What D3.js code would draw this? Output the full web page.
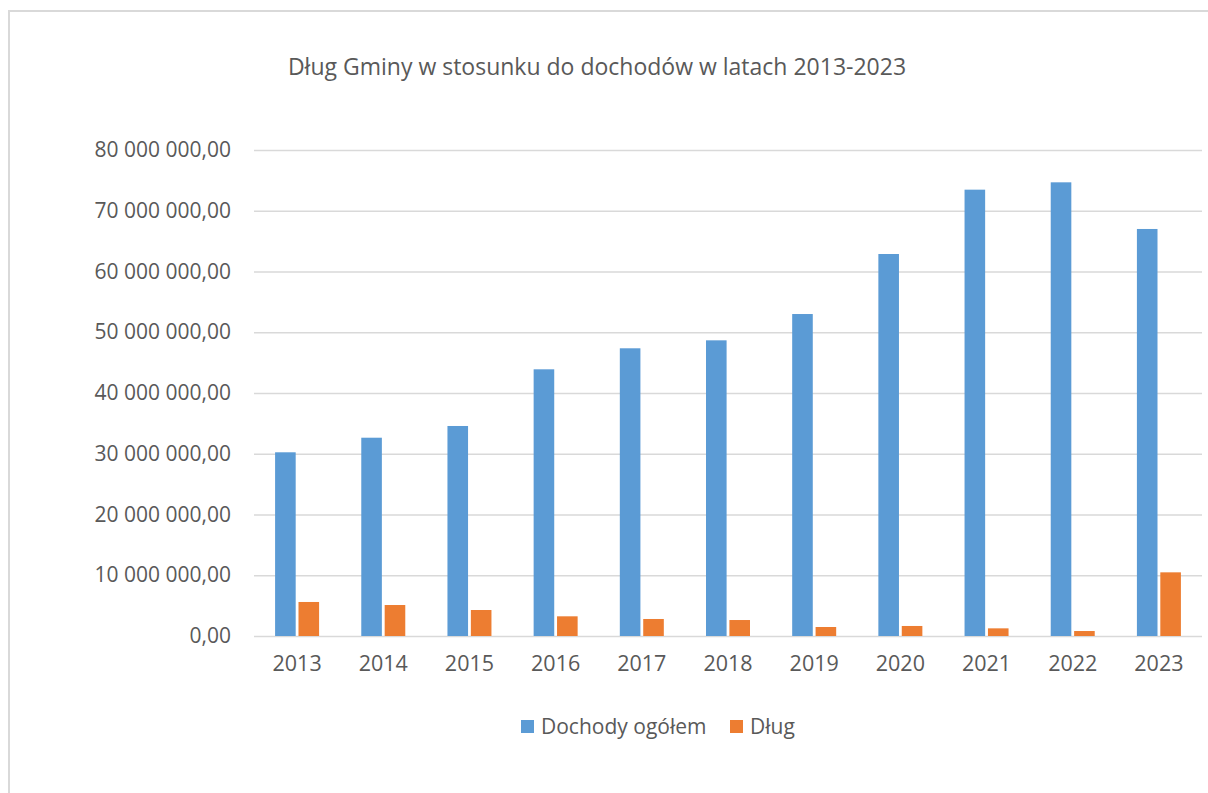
<!DOCTYPE html>
<html>
<head>
<meta charset="utf-8">
<script src="https://cdn.jsdelivr.net/npm/d3@7"></script>
<style>
  body { margin: 0; background: #fff; }
  text { font-family: "Open Sans", "Noto Sans", sans-serif; fill: #595959; }
</style>
</head>
<body>
<div id="chart"></div>
<script>
// chart size = browser window
const FRAME_WIDTH = 1208;
const FRAME_HEIGHT = 793;
const MARGINS = {left: 254, right: 6, top: 150, bottom: 157};

const VIS_WIDTH = FRAME_WIDTH - MARGINS.left - MARGINS.right;
const VIS_HEIGHT = FRAME_HEIGHT - MARGINS.top - MARGINS.bottom;

// data
const years = ["2013", "2014", "2015", "2016", "2017", "2018", "2019", "2020", "2021", "2022", "2023"];
const dochody = [30240000, 32640000, 34570000, 43900000, 47360000, 48670000, 53000000, 62880000, 73470000, 74680000, 67000000];
const dlug = [5600000, 5100000, 4280000, 3240000, 2800000, 2630000, 1480000, 1650000, 1260000, 820000, 10480000];
const seriesNames = ["Dochody ogółem", "Dług"];
const seriesColors = ["#5b9bd5", "#ed7d31"];
const yTicks = [0, 10000000, 20000000, 30000000, 40000000, 50000000, 60000000, 70000000, 80000000];

const FRAME = d3.select("#chart")
  .append("svg")
  .attr("width", FRAME_WIDTH)
  .attr("height", FRAME_HEIGHT);

// light border of the chart area (cut at the right / bottom)
FRAME.append("rect")
  .attr("x", 9)
  .attr("y", 11)
  .attr("width", FRAME_WIDTH + 20)
  .attr("height", FRAME_HEIGHT + 20)
  .attr("fill", "#fff")
  .attr("stroke", "#d9d9d9")
  .attr("stroke-width", 2);

// title
FRAME.append("text")
  .attr("x", 597)
  .attr("y", 75)
  .attr("text-anchor", "middle")
  .style("font-size", "23px")
  .text("Dług Gminy w stosunku do dochodów w latach 2013-2023");

const X_SCALE = d3.scaleBand()
  .domain(years)
  .range([0, VIS_WIDTH]);

const X_INNER = d3.scaleBand()
  .domain(seriesNames)
  .range([X_SCALE.bandwidth() / 2 - 22, X_SCALE.bandwidth() / 2 + 22])
  .paddingInner(0.12);

const Y_SCALE = d3.scaleLinear()
  .domain([0, 80000000])
  .range([VIS_HEIGHT, 0]);

const G = FRAME.append("g")
  .attr("transform", "translate(" + MARGINS.left + "," + MARGINS.top + ")");

// formatting like "80 000 000,00"
const fmt = (v) => d3.format(",.2f")(v).replace(/,/g, " ").replace(".", ",");

// gridlines + y labels
const yAxis = d3.axisLeft(Y_SCALE)
  .tickValues(yTicks)
  .tickSize(-VIS_WIDTH)
  .tickPadding(23)
  .tickFormat(fmt);

G.append("g")
  .attr("class", "y-axis")
  .call(yAxis)
  .call(g => g.select(".domain").remove())
  .call(g => g.selectAll(".tick line").attr("stroke", "#d9d9d9").attr("stroke-width", 1.5))
  .call(g => g.selectAll(".tick text")
    .attr("fill", "#595959")
    .style("font-size", "21px")
    .style("font-family", "'Open Sans', sans-serif"));

// x labels
const xAxis = d3.axisBottom(X_SCALE).tickSize(0).tickPadding(20);
G.append("g")
  .attr("transform", "translate(0," + VIS_HEIGHT + ")")
  .call(xAxis)
  .call(g => g.select(".domain").remove())
  .call(g => g.selectAll(".tick text")
    .attr("fill", "#595959")
    .style("font-size", "21.5px")
    .style("font-family", "'Open Sans', sans-serif"));

// bars
const rows = years.map((y, i) => ({year: y, values: [dochody[i], dlug[i]]}));

const groups = G.selectAll(".year")
  .data(rows)
  .enter()
  .append("g")
  .attr("transform", (d) => "translate(" + X_SCALE(d.year) + ",0)");

groups.selectAll("rect")
  .data((d) => d.values.map((v, j) => ({name: seriesNames[j], value: v, color: seriesColors[j]})))
  .enter()
  .append("rect")
  .attr("x", (d) => X_INNER(d.name))
  .attr("y", (d) => Y_SCALE(d.value))
  .attr("width", X_INNER.bandwidth())
  .attr("height", (d) => VIS_HEIGHT - Y_SCALE(d.value))
  .attr("fill", (d) => d.color);

// legend
const legendX = [521, 730];
const legend = FRAME.selectAll(".legend")
  .data(seriesNames)
  .enter()
  .append("g")
  .attr("transform", (d, i) => "translate(" + legendX[i] + ",720)");

legend.append("rect")
  .attr("width", 13)
  .attr("height", 13)
  .attr("fill", (d, i) => seriesColors[i]);

legend.append("text")
  .attr("x", 20)
  .attr("y", 13.5)
  .style("font-size", "21px")
  .text((d) => d);
</script>
</body>
</html>
